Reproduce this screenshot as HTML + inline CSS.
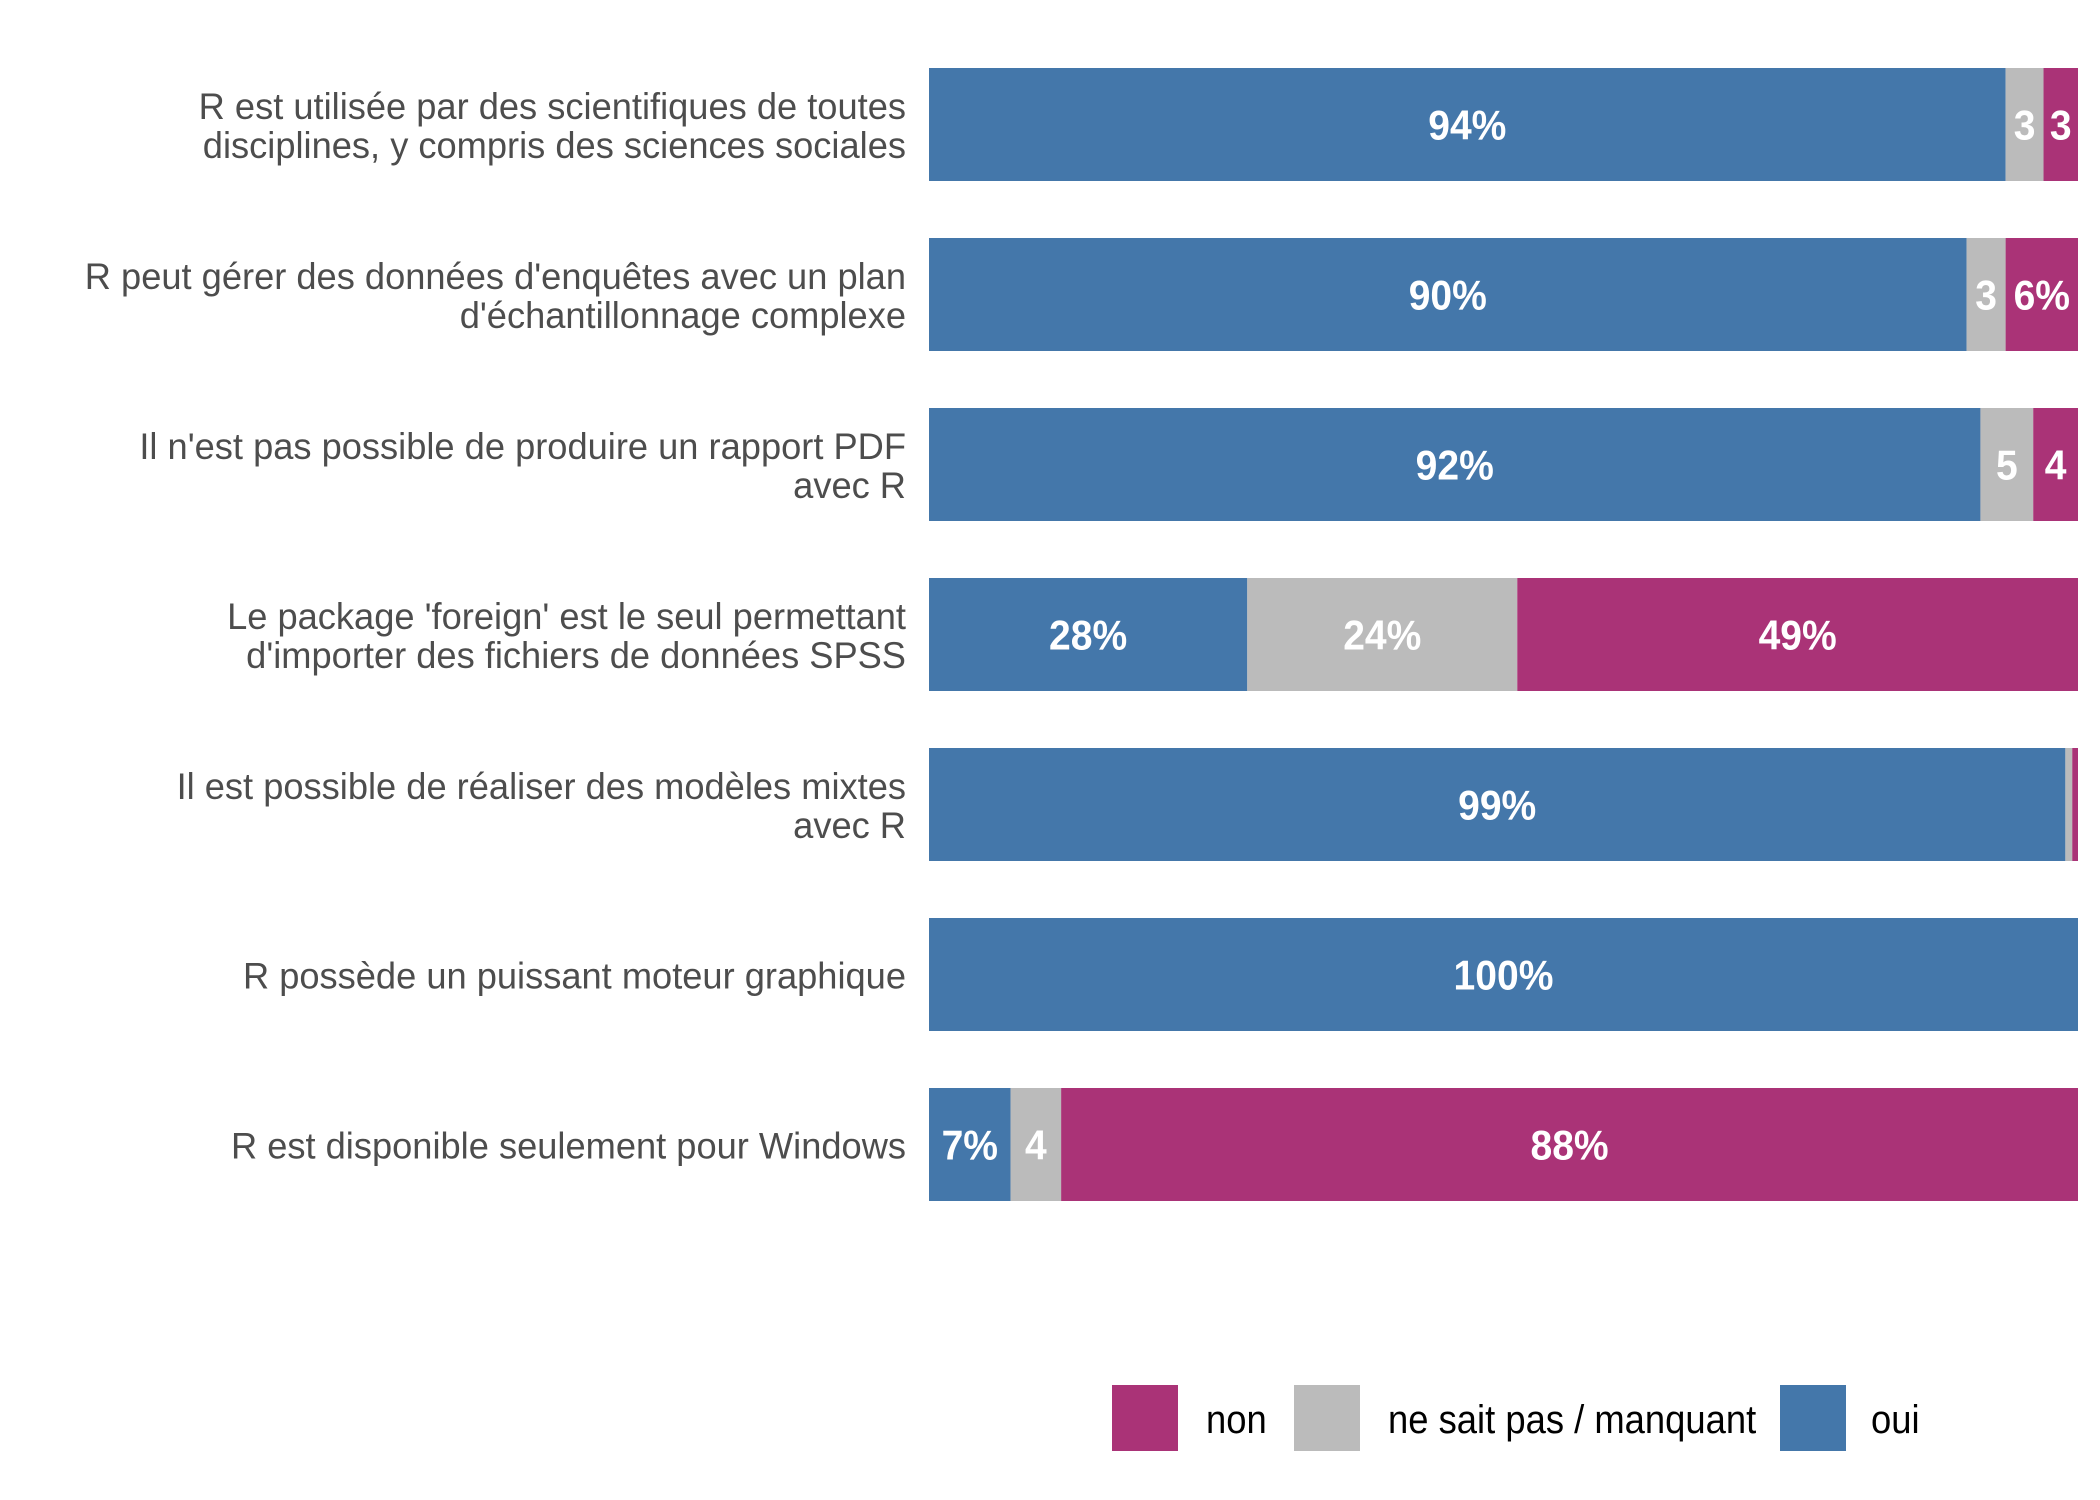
<!DOCTYPE html>
<html><head><meta charset="utf-8"><style>
html,body{margin:0;padding:0;background:#fff}
svg{display:block}
text{font-family:"Liberation Sans",Arial,sans-serif}
</style></head><body>
<svg id="chart" width="2100" height="1500" viewBox="0 0 2100 1500" xmlns="http://www.w3.org/2000/svg">
<g id="bars"></g>
<g id="labels"></g>
<g id="legend"></g>
</svg>
<script>
const categories = [
  ["R est utilisée par des scientifiques de toutes","disciplines, y compris des sciences sociales"],
  ["R peut gérer des données d'enquêtes avec un plan","d'échantillonnage complexe"],
  ["Il n'est pas possible de produire un rapport PDF","avec R"],
  ["Le package 'foreign' est le seul permettant","d'importer des fichiers de données SPSS"],
  ["Il est possible de réaliser des modèles mixtes","avec R"],
  ["R possède un puissant moteur graphique"],
  ["R est disponible seulement pour Windows"]
];
const ouiValues = [93.7, 90.3, 91.6, 27.7, 98.9, 100, 7.1];
const nspValues = [3.3, 3.4, 4.6, 23.5, 0.6, 0, 4.4];
const nonValues = [3.0, 6.3, 3.9, 48.8, 0.5, 0, 88.5];
const ouiLabels = ["94%","90%","92%","28%","99%","100%","7%"];
const nspLabels = ["3","3","5","24%","","","4"];
const nonLabels = ["3","6%","4","49%","","","88%"];
const legendLabels = ["non","ne sait pas / manquant","oui"];

const NS="http://www.w3.org/2000/svg";
const X0=929, X1=2078, TOP=68, STEP=170, BH=113;
const COL={oui:"#4477AA",nsp:"#BBBBBB",non:"#AA3377"};
const xScale = v => (X1-X0)*v/100;
const yScale = i => TOP + i*STEP;

const bars=document.getElementById('bars');
const labels=document.getElementById('labels');
const legend=document.getElementById('legend');

function mk(tag, attrs){const e=document.createElementNS(NS,tag);for(const k in attrs)e.setAttribute(k,attrs[k]);return e;}

function segText(cx, cy, txt, parent){
  if(!txt) return;
  const t=mk('text',{x:0,y:0,'text-anchor':'middle','font-size':42,'font-weight':'bold',fill:'#fff',transform:`translate(${cx},${cy+15}) scale(0.93,1)`});
  
  
  t.textContent=txt;
  parent.appendChild(t);
}

categories.forEach((cat,i)=>{
  const y=yScale(i);
  const tot=ouiValues[i]+nspValues[i]+nonValues[i];
  const segs=[["oui",ouiValues[i],ouiLabels[i]],["nsp",nspValues[i],nspLabels[i]],["non",nonValues[i],nonLabels[i]]];
  let acc=0;
  segs.forEach(s=>{
    const w=xScale(s[1]/tot*100);
    const x=X0+xScale(acc/tot*100);
    if(w>0){
      const r=mk('rect',{x:x,y:y,width:w,height:BH,fill:COL[s[0]]});
      
      
      bars.appendChild(r);
      segText(x+w/2, y+BH/2, s[2], bars);
    }
    acc+=s[1];
  });
  const cy=y+BH/2;
  const n=cat.length;
  cat.forEach((line,j)=>{
    const ly=cy + (j-(n-1)/2)*39 + 14;
    const t=mk('text',{x:0,y:0,'text-anchor':'end','font-size':37,fill:'#4d4d4d',transform:`translate(906,${ly}) scale(0.98,1)`});
    
    
    t.textContent=line;
    labels.appendChild(t);
  });
});

const legKeys=[[1112,"non",1206],[1294,"nsp",1388],[1780,"oui",1871]];
legKeys.forEach((k,i)=>{
  const r=mk('rect',{x:k[0],y:1385,width:66,height:66,fill:COL[k[1]]});
  
  
  legend.appendChild(r);
  const t=mk('text',{x:0,y:0,'font-size':40,fill:'#000',transform:`translate(${k[2]},1433) scale(0.91,1)`});
  
  
  t.textContent=legendLabels[i];
  legend.appendChild(t);
});
</script>
</body></html>
